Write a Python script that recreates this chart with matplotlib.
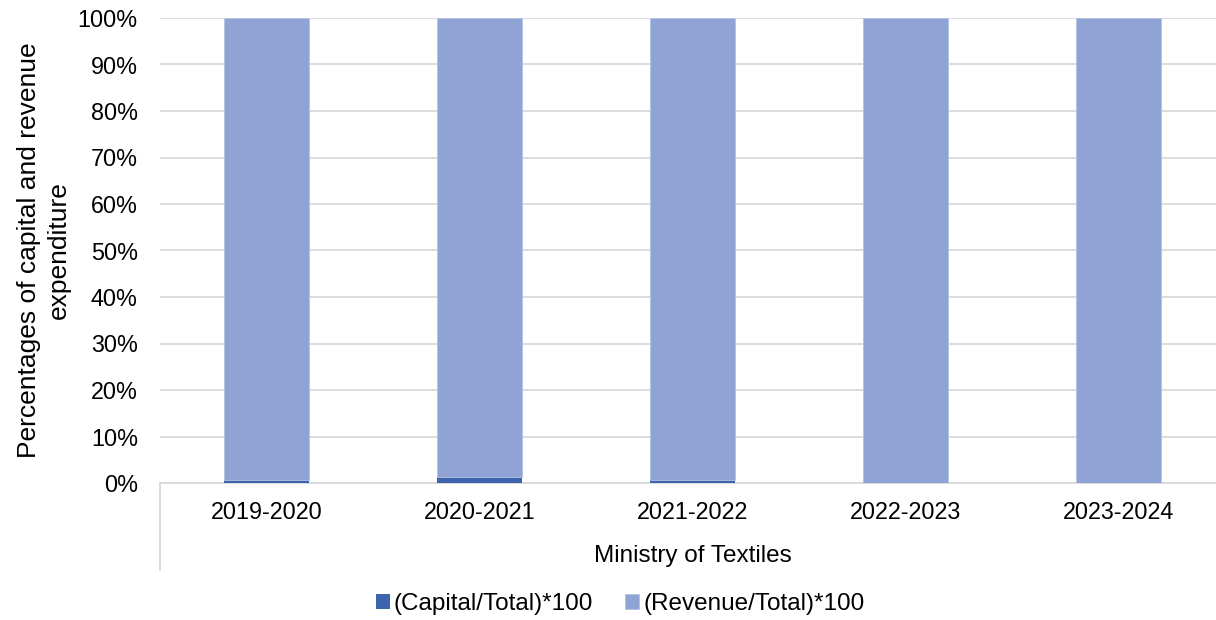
import matplotlib
matplotlib.use('Agg')
import matplotlib.pyplot as plt
from matplotlib.lines import Line2D
import numpy as np

plt.rcParams['font.family'] = ['Liberation Sans', 'DejaVu Sans']

# Данные
years = ['2019-2020', '2020-2021', '2021-2022', '2022-2023', '2023-2024']
capital_share = [0.6, 1.3, 0.6, 0.05, 0.03]
revenue_share = [99.4, 98.7, 99.4, 99.95, 99.97]

capital_color = '#3f64ae'
revenue_color = '#8fa4d4'
grid_color = '#d9d9d9'

fig = plt.figure(figsize=(12.16, 6.2), dpi=100)
ax = fig.add_axes([160 / 1216, 1 - 483 / 620, 1065 / 1216, 465 / 620])

x = np.arange(len(years))
ax.bar(x, capital_share, width=0.4, color=capital_color, label='(Capital/Total)*100', zorder=3)
ax.bar(x, revenue_share, width=0.4, bottom=capital_share, color=revenue_color,
       edgecolor='#b4c2e4', linewidth=0.6, label='(Revenue/Total)*100', zorder=3)

ax.set_xlim(-0.5, len(years) - 0.5)
ax.set_ylim(0, 100)
ax.set_yticks(np.arange(0, 101, 10))
ax.set_yticklabels([f'{v}%' for v in range(0, 101, 10)])
ax.set_xticks(x)
ax.set_xticklabels(years)
ax.tick_params(axis='both', length=0, labelsize=16.8, colors='#000000')
ax.tick_params(axis='y', pad=16)
ax.tick_params(axis='x', pad=13)

ax.yaxis.grid(True, color=grid_color, linewidth=1.3, zorder=0)
for side in ['left', 'right', 'top']:
    ax.spines[side].set_visible(False)
ax.spines['bottom'].set_color(grid_color)
ax.spines['bottom'].set_linewidth(1.3)

# вертикальная линия под осью (как в Excel)
ax.add_line(Line2D([0, 0], [0, -87 / 465], transform=ax.transAxes, color=grid_color,
                   linewidth=1.3, clip_on=False))

ax.set_xlabel('Ministry of Textiles', fontsize=17.5, labelpad=15)
ax.set_ylabel('Percentages of capital and revenue\nexpenditure', fontsize=19, labelpad=5,
              linespacing=1.3)

fig.legend(loc='center', bbox_to_anchor=(620 / 1216, 1 - 604 / 620), ncol=2, frameon=False,
           fontsize=17.5, handlelength=0.6, handleheight=0.6, handletextpad=0.15,
           columnspacing=1.3)

plt.savefig('out.png', dpi=100)
